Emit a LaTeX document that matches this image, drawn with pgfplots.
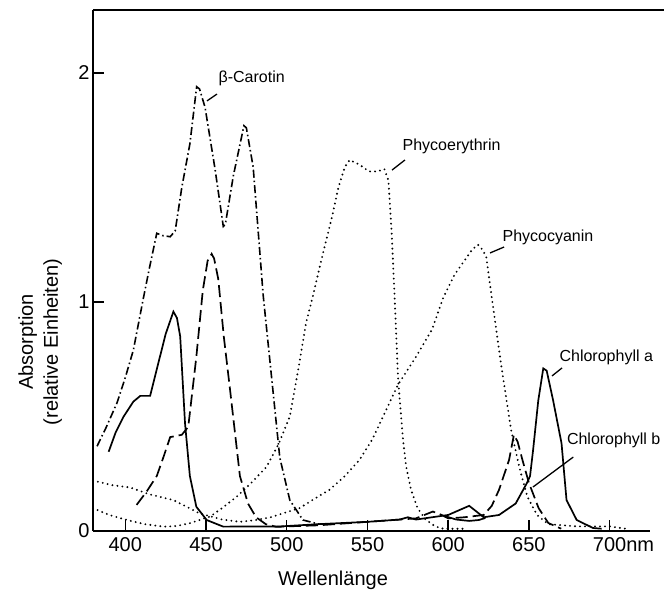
\documentclass[border=0pt]{standalone}
\usepackage{fontspec}
\setmainfont{Liberation Sans}
\usepackage{pgfplots}
\pgfplotsset{compat=1.18}

\begin{document}
\begin{tikzpicture}
\useasboundingbox (-93pt,-66pt) rectangle (571pt,531pt);
\begin{axis}[
  at={(0,0)}, anchor=south west,
  scale only axis, width=557pt, height=521pt,
  xmin=380, xmax=725, ymin=0, ymax=2.275,
  axis x line=box, axis y line=left,
  every outer x axis line/.append style={-},
  every outer y axis line/.append style={-},
  axis line style={line width=1.5pt, -},
  xtick pos=left, ytick pos=left,
  xtick={400,450,500,550,600,650,700},
  xticklabels={400,450,500,550,600,650,{700\rlap{nm}}},
  ytick={0,1,2}, yticklabels={0,1,2},
  tick align=inside, major tick length=11pt,
  tick style={line width=1.4pt, black},
  tick label style={font=\fontsize{20}{24}\selectfont},
  xticklabel style={yshift=-3pt},
  xlabel={Wellenlänge},
  ylabel={Absorption\\(relative Einheiten)},
  label style={font=\fontsize{20}{25}\selectfont},
  x label style={at={(axis description cs:0.431,-0.094)}, anchor=center},
  y label style={at={(axis description cs:-0.095,0.363)}, anchor=center, align=center, rotate=0},
  clip=false,
]
% Chlorophyll a
\addplot[black, line width=1.7pt] coordinates {
 (389.7,0.346) (394,0.43) (399,0.50) (405,0.565) (409.3,0.59) (415.4,0.59) (420,0.72) (425,0.86)
 (429.8,0.958) (432,0.93) (434,0.85) (437,0.47) (440,0.24) (444,0.106) (450.4,0.048)
 (460.7,0.019) (480,0.02) (496,0.02) (520,0.03) (550,0.04) (570,0.05) (575,0.06)
 (580,0.05) (590,0.06) (600,0.07) (613,0.11) (622,0.06) (631.5,0.07) (641.8,0.12)
 (648.8,0.21) (650.7,0.24) (652.6,0.354) (655.8,0.57) (658.9,0.71) (661,0.70)
 (665,0.57) (670.2,0.383) (673.3,0.135) (679.6,0.048) (689.7,0.013) (695,0.01)
};
\addplot[black, line width=1.7pt] coordinates {
 (598,0.065) (605,0.05) (613,0.044) (619,0.048) (623,0.057)
};
% Chlorophyll b
\addplot[black, line width=1.7pt, dash pattern=on 12pt off 5pt] coordinates {
 (407,0.114) (413,0.17) (419.5,0.24) (424,0.33) (427.8,0.41) (435,0.42) (439,0.455)
 (444,0.76) (448,1.05) (451,1.18) (453.5,1.21) (455,1.19) (457.6,1.10) (461,0.85)
 (465,0.61) (471,0.24) (476,0.12) (481,0.06) (487,0.03) (493.6,0.018) (500,0.02)
 (520,0.025) (550,0.04) (570,0.05) (580,0.055) (590.5,0.085) (596,0.07) (600,0.055)
 (610,0.06) (622,0.07) (627,0.11) (631.5,0.18) (637.7,0.31) (640.7,0.42) (643,0.39)
 (646,0.31) (650,0.21) (656,0.10) (662,0.035) (670,0.01)
};
% beta-Carotin
\addplot[black, line width=1.6pt, dash pattern=on 8pt off 3pt on 1.5pt off 3pt] coordinates {
 (382.5,0.37) (388,0.45) (394.9,0.56) (400,0.67) (405,0.79) (411.3,1.02) (415,1.15)
 (419.5,1.30) (423,1.29) (427.8,1.285) (430.9,1.31) (435,1.50) (440,1.69) (444.2,1.94)
 (446,1.93) (449.4,1.85) (455.6,1.58) (460.7,1.33) (462,1.34) (466.9,1.55) (473.5,1.77)
 (475,1.76) (479.2,1.59) (485.4,1.03) (491.5,0.61) (495.7,0.32) (501.9,0.135)
 (510,0.048) (520,0.03) (530,0.03)
};
% Phycoerythrin
\addplot[black, line width=2.1pt, line cap=round, dash pattern=on 0pt off 5pt] coordinates {
 (380,0.10) (390,0.07) (401,0.048) (412,0.03) (423.6,0.019) (432,0.022) (440,0.034)
 (452.5,0.063) (460,0.10) (469,0.15) (478,0.21) (487.5,0.28) (495,0.38) (501.9,0.50)
 (507,0.70) (512,0.91) (516,1.02) (522,1.20) (528,1.37) (532,1.50) (536,1.59)
 (539,1.62) (545,1.60) (551,1.57) (556,1.57) (560.5,1.58) (563,1.53) (565,1.30)
 (566.7,1.04) (569,0.66) (572,0.40) (574,0.28) (577,0.18) (581,0.10) (586,0.05)
 (592,0.02) (597,0.01) (610,0.01)
};
% Phycocyanin
\addplot[black, line width=2.1pt, line cap=round, dash pattern=on 0pt off 5pt] coordinates {
 (380,0.22) (392,0.20) (403,0.19) (415,0.16) (429.8,0.135) (446,0.077) (460,0.05)
 (471,0.04) (481,0.048) (490,0.06) (497.7,0.077) (508,0.10) (517,0.14) (526.5,0.18)
 (536,0.24) (545,0.31) (553,0.40) (561,0.52) (569,0.64) (580,0.76) (590,0.88)
 (597,1.02) (604,1.12) (610,1.18) (615,1.23) (618.5,1.25) (621,1.23) (623.5,1.20)
 (627,1.02) (632.7,0.73) (639,0.44) (644,0.28) (649,0.15) (655,0.07) (662,0.03)
 (680,0.02) (700,0.02) (710,0.01)
};
% annotations
\begin{scope}[font=\fontsize{16}{19}\selectfont, line width=1.3pt]
\node[anchor=west, inner sep=0pt] at (axis cs:457.4,1.978) {β-Carotin};
\draw (axis cs:450.6,1.878) -- (axis cs:456.8,1.908);
\node[anchor=west, inner sep=0pt] at (axis cs:571.4,1.681) {Phycoerythrin};
\draw (axis cs:565.2,1.576) -- (axis cs:573.2,1.62);
\node[anchor=west, inner sep=0pt] at (axis cs:633.3,1.284) {Phycocyanin};
\draw (axis cs:625.9,1.214) -- (axis cs:634.6,1.24);
\node[anchor=west, inner sep=0pt] at (axis cs:668.6,0.76) {Chlorophyll a};
\draw (axis cs:664.3,0.677) -- (axis cs:670.5,0.712);
\node[anchor=west, inner sep=0pt] at (axis cs:673.2,0.397) {Chlorophyll b};
\draw (axis cs:652.5,0.192) -- (axis cs:677.5,0.323);
\end{scope}
\end{axis}
\draw[line width=1.5pt] (557pt,521pt) -- (571pt,521pt);
\end{tikzpicture}
\end{document}
